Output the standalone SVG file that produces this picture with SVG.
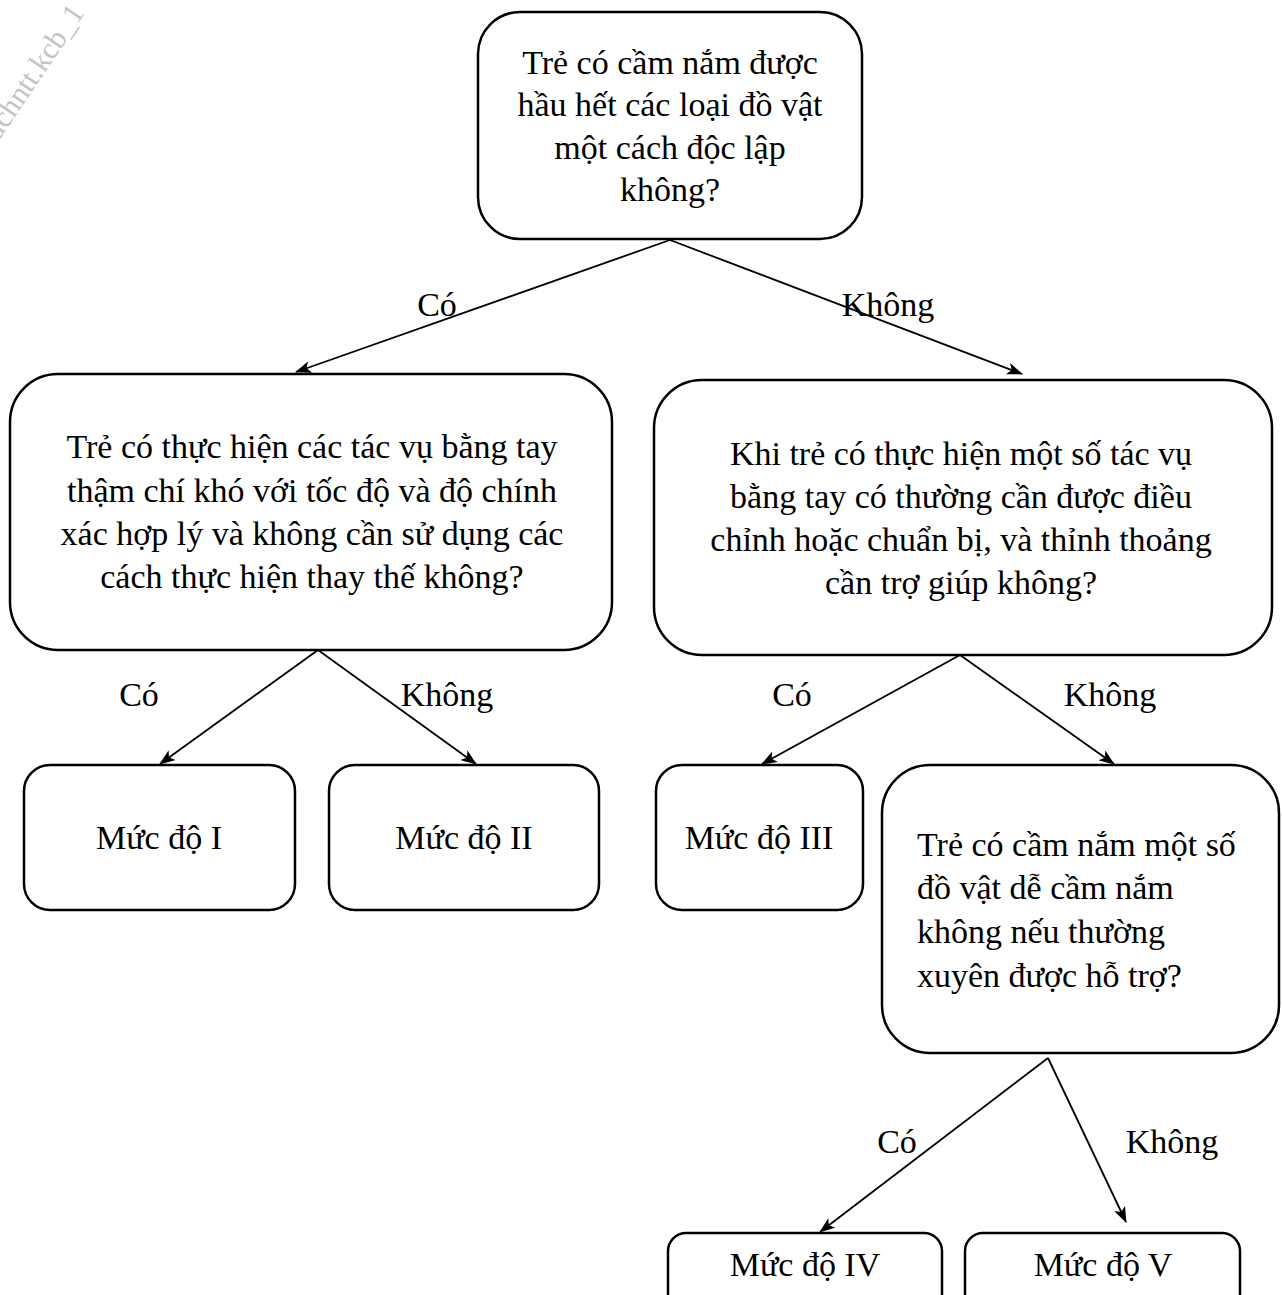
<svg xmlns="http://www.w3.org/2000/svg" width="1282" height="1295" viewBox="0 0 1282 1295">
  <style>
    .box { fill: #ffffff; stroke: #000000; stroke-width: 2.5; }
    .t { font-family: "Liberation Serif", "Times New Roman", serif; font-size: 34px; fill: #000000; }
    .c { text-anchor: middle; }
    .edge { stroke: #000000; stroke-width: 1.8; fill: none; marker-end: url(#arrow); }
    .wm { font-family: "Liberation Serif", "Times New Roman", serif; font-size: 30px; fill: #c4c4c4; }
  </style>
  <defs>
    <marker id="arrow" viewBox="0 0 16 12" refX="15" refY="6" markerWidth="16" markerHeight="12" markerUnits="userSpaceOnUse" orient="auto">
      <path d="M0,0 L16,6 L0,12 L4,6 z" fill="#000000"/>
    </marker>
  </defs>
  <rect width="1282" height="1295" fill="#ffffff"/>

  <!-- corner watermark -->
  <text class="wm" transform="translate(-2,142) rotate(-56)">uchntt.kcb_1</text>

  <!-- connectors -->
  <g id="connectors">
    <line class="edge" x1="670" y1="240" x2="296" y2="372"/>
    <line class="edge" x1="670" y1="240" x2="1022" y2="374"/>
    <line class="edge" x1="318" y1="650" x2="160" y2="764"/>
    <line class="edge" x1="318" y1="650" x2="476" y2="764"/>
    <line class="edge" x1="960" y1="655" x2="762" y2="764"/>
    <line class="edge" x1="960" y1="655" x2="1114" y2="764"/>
    <line class="edge" x1="1048" y1="1058" x2="820" y2="1232"/>
    <line class="edge" x1="1048" y1="1058" x2="1126" y2="1222"/>
    <text class="t c" x="437" y="316">Có</text>
    <text class="t c" x="888" y="316">Không</text>
    <text class="t c" x="139" y="706">Có</text>
    <text class="t c" x="447" y="706">Không</text>
    <text class="t c" x="792" y="706">Có</text>
    <text class="t c" x="1110" y="706">Không</text>
    <text class="t c" x="897" y="1153">Có</text>
    <text class="t c" x="1172" y="1153">Không</text>
  </g>

  <g id="q-root">
    <rect class="box" x="478" y="12" width="384" height="227" rx="42"/>
    <text class="t c" x="670" y="74">Trẻ có cầm nắm được</text>
    <text class="t c" x="670" y="116">hầu hết các loại đồ vật</text>
    <text class="t c" x="670" y="159">một cách độc lập</text>
    <text class="t c" x="670" y="201">không?</text>
  </g>

  <g id="q-left">
    <rect class="box" x="10" y="374" width="602" height="276" rx="48"/>
    <text class="t c" x="312" y="458">Trẻ có thực hiện các tác vụ bằng tay</text>
    <text class="t c" x="312" y="502">thậm chí khó với tốc độ và độ chính</text>
    <text class="t c" x="312" y="545">xác hợp lý và không cần sử dụng các</text>
    <text class="t c" x="312" y="588">cách thực hiện thay thế không?</text>
  </g>

  <g id="q-right">
    <rect class="box" x="654" y="380" width="618" height="275" rx="48"/>
    <text class="t c" x="961" y="465">Khi trẻ có thực hiện một số tác vụ</text>
    <text class="t c" x="961" y="508">bằng tay có thường cần được điều</text>
    <text class="t c" x="961" y="551">chỉnh hoặc chuẩn bị, và thỉnh thoảng</text>
    <text class="t c" x="961" y="594">cần trợ giúp không?</text>
  </g>

  <g id="level-1">
    <rect class="box" x="24" y="765" width="271" height="145" rx="26"/>
    <text class="t c" x="159" y="849">Mức độ I</text>
  </g>

  <g id="level-2">
    <rect class="box" x="329" y="765" width="270" height="145" rx="26"/>
    <text class="t c" x="464" y="849">Mức độ II</text>
  </g>

  <g id="level-3">
    <rect class="box" x="656" y="765" width="207" height="145" rx="26"/>
    <text class="t c" x="759" y="849">Mức độ III</text>
  </g>

  <g id="q-third">
    <rect class="box" x="882" y="765" width="397" height="288" rx="48"/>
    <text class="t" x="917" y="856">Trẻ có cầm nắm một số</text>
    <text class="t" x="917" y="899">đồ vật dễ cầm nắm</text>
    <text class="t" x="917" y="943">không nếu thường</text>
    <text class="t" x="917" y="987">xuyên được hỗ trợ?</text>
  </g>

  <g id="level-4">
    <rect class="box" x="668" y="1233" width="274" height="100" rx="18"/>
    <text class="t c" x="805" y="1276">Mức độ IV</text>
  </g>

  <g id="level-5">
    <rect class="box" x="965" y="1233" width="275" height="100" rx="18"/>
    <text class="t c" x="1103" y="1276">Mức độ V</text>
  </g>
</svg>
